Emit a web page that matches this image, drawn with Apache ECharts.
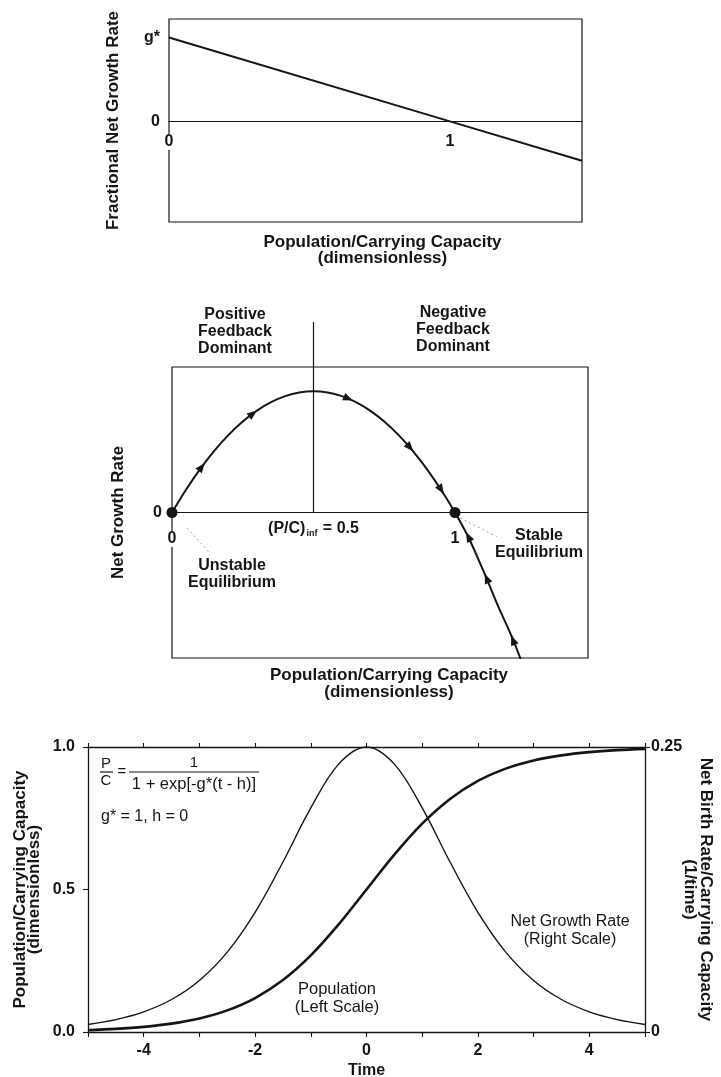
<!DOCTYPE html>
<html>
<head>
<meta charset="utf-8">
<script src="https://cdn.jsdelivr.net/npm/echarts/dist/echarts.min.js"></script>
<style>
  html, body { margin: 0; padding: 0; background: #fff; }
  #chart { width: 721px; height: 1077px; }
</style>
</head>
<body>
<div id="chart"></div>
<script>
// ---- Panel 1: fractional net growth rate vs. population/carrying capacity
const p1X = [0, 1, 1.47];
const p1Y = [1, 0, -0.47];
const p1XTicks = [0, 1];
const p1XTickLabels = ['0', '1'];
const p1YTicks = [0, 1];
const p1YTickLabels = ['0', 'g*'];

// ---- Panel 2: net growth rate (phase plot)
const p2X = [0, 0.05, 0.1, 0.15, 0.2, 0.25, 0.3, 0.35, 0.4, 0.45, 0.5, 0.55, 0.6, 0.65, 0.7,
             0.75, 0.8, 0.85, 0.9, 0.95, 1.0, 1.05, 1.1, 1.15, 1.2, 1.25];
const p2Y = [0, 0.0475, 0.09, 0.1275, 0.16, 0.1875, 0.21, 0.2275, 0.24, 0.2475, 0.25, 0.2475, 0.24,
             0.2275, 0.21, 0.1875, 0.16, 0.1275, 0.09, 0.0475, 0, -0.054, -0.12, -0.19, -0.255, -0.33];
const p2ArrowX = [0.105, 0.286, 0.623, 0.841, 0.951, 1.047, 1.112, 1.205];
const p2ArrowY = [0.094, 0.204, 0.235, 0.134, 0.047, -0.05, -0.136, -0.263];
const p2ArrowDir = [1, 1, 1, 1, 1, -1, -1, -1];
const p2Equilibria = [[0, 0], [1, 0]];
const p2Inflection = 0.5;
const p2DividerTop = 0.393;
const p2UnstableLeader = [[0.053, -0.032], [0.134, -0.084]];
const p2StableLeader = [[1.018, -0.011], [1.148, -0.05]];
const p2XTicks = [0, 1];
const p2XTickLabels = ['0', '1'];
const p2YTicks = [0];
const p2YTickLabels = ['0'];

// ---- Panel 3: logistic population and net growth rate over time
const p3Time = [-5, -4.5, -4, -3.5, -3, -2.5, -2, -1.5, -1, -0.5, 0, 0.5, 1, 1.5, 2, 2.5, 3, 3.5, 4, 4.5, 5];
const p3Population = [0.0067, 0.011, 0.018, 0.0293, 0.0474, 0.0759, 0.1192, 0.1824, 0.2689, 0.3775, 0.5,
                      0.6225, 0.7311, 0.8176, 0.8808, 0.9241, 0.9526, 0.9707, 0.982, 0.989, 0.9933];
const p3GrowthRate = [0.0066, 0.0109, 0.0177, 0.0285, 0.0452, 0.0701, 0.105, 0.1491, 0.1966, 0.235, 0.25,
                      0.235, 0.1966, 0.1491, 0.105, 0.0701, 0.0452, 0.0285, 0.0177, 0.0109, 0.0066];
const p3XTicks = [-4, -2, 0, 2, 4];
const p3XTickLabels = ['-4', '-2', '0', '2', '4'];
const p3LeftTicks = [0, 0.5, 1];
const p3LeftTickLabels = ['0.0', '0.5', '1.0'];
const p3RightTicks = [0, 0.25];
const p3RightTickLabels = ['0', '0.25'];

const FONT = '"Liberation Sans", Arial, Helvetica, sans-serif';
const INK = '#151515';

const zip = (xs, ys) => xs.map((x, i) => [x, ys[i]]);
const tickFormatter = (ticks, labels) => v => {
  const i = ticks.findIndex(t => Math.abs(t - v) < 1e-9);
  return i < 0 ? '' : labels[i];
};
const boldLabel = (extra) => Object.assign({
  color: INK, fontFamily: FONT, fontWeight: 'bold', fontSize: 15
}, extra);
const nameStyle = (extra) => Object.assign({
  color: INK, fontFamily: FONT, fontWeight: 'bold', fontSize: 17, lineHeight: 17
}, extra);
const inkLine = (w) => ({ lineStyle: { color: INK, width: w } });

// Tick labels that sit under the zero line of a phase panel
const zeroLineLabels = (xIdx, yIdx, ticks, labels, distance) => ({
  type: 'scatter', xAxisIndex: xIdx, yAxisIndex: yIdx, symbolSize: 1, clip: false, z: 6,
  itemStyle: { color: 'rgba(0,0,0,0)', opacity: 1 },
  data: ticks.map(t => [t, 0]),
  label: {
    show: true, position: 'bottom', distance, opacity: 1,
    formatter: p => labels[p.dataIndex],
    color: INK, fontFamily: FONT, fontWeight: 'bold', fontSize: 16,
    backgroundColor: '#fff', padding: [0, 2, 0, 2]
  }
});

const chart = echarts.init(document.getElementById('chart'), null, { renderer: 'canvas' });

// Arrow heads laid along the phase curve, pointing toward the stable equilibrium
function renderArrow(params, api) {
  const x = api.value(0), y = api.value(1), dir = api.value(2);
  let k = 0;
  while (k < p2X.length - 2 && p2X[k + 1] < x) k++;
  const a = api.coord([p2X[k], p2Y[k]]);
  const b = api.coord([p2X[k + 1], p2Y[k + 1]]);
  let ang = Math.atan2(b[1] - a[1], b[0] - a[0]);
  if (dir < 0) ang += Math.PI;
  const c = api.coord([x, y]);
  const L = 10, W = 4;
  const cs = Math.cos(ang), sn = Math.sin(ang);
  const tip = [c[0] + cs * L / 2, c[1] + sn * L / 2];
  const back = [c[0] - cs * L / 2, c[1] - sn * L / 2];
  return {
    type: 'polygon',
    shape: { points: [tip, [back[0] - sn * W, back[1] + cs * W], [back[0] + sn * W, back[1] - cs * W]] },
    style: { fill: INK }
  };
}

const txt = (text, x, y, opt) => ({
  type: 'text', x, y, silent: true, z: 10,
  style: Object.assign({
    text, fill: INK, fontFamily: FONT, fontSize: 16, fontWeight: 'bold',
    align: 'center', verticalAlign: 'middle', textAlign: 'center', textVerticalAlign: 'middle', lineHeight: 17
  }, opt || {})
});
const bar = (x1, x2, y) => ({
  type: 'line', silent: true, shape: { x1, y1: y, x2, y2: y }, style: { stroke: INK, lineWidth: 1.2 }
});

const option = {
  animation: false,
  backgroundColor: '#fff',
  grid: [
    { left: 169, top: 19, width: 413, height: 203, show: true, borderColor: INK, borderWidth: 1.2, outerBoundsMode: 'none', containLabel: false },
    { left: 172, top: 367, width: 416, height: 291, show: true, borderColor: INK, borderWidth: 1.2, outerBoundsMode: 'none', containLabel: false },
    { left: 88, top: 747, width: 557, height: 285, show: false, outerBoundsMode: 'none', containLabel: false }
  ],
  xAxis: [
    {
      gridIndex: 0, type: 'value', min: 0, max: 1.47, interval: 1,
      axisLine: Object.assign({ onZero: true }, inkLine(1.2)), axisTick: { show: false }, splitLine: { show: false },
      axisLabel: { show: false },
      name: 'Population/Carrying Capacity\n(dimensionless)', nameLocation: 'middle', nameGap: 12, nameMoveOverlap: false,
      nameTextStyle: nameStyle({ lineHeight: 16, padding: [0, 0, 0, 14] })
    },
    {
      gridIndex: 1, type: 'value', min: 0, max: 1.47, interval: 1,
      axisLine: Object.assign({ onZero: true }, inkLine(1.2)), axisTick: { show: false }, splitLine: { show: false },
      axisLabel: { show: false },
      name: 'Population/Carrying Capacity\n(dimensionless)', nameLocation: 'middle', nameGap: 9, nameMoveOverlap: false,
      nameTextStyle: nameStyle({ padding: [0, 0, 0, 18] })
    },
    {
      gridIndex: 2, type: 'value', position: 'bottom', min: -5, max: 5, interval: 1,
      axisLine: Object.assign({ onZero: false }, inkLine(1.3)),
      axisTick: { show: true, inside: false, length: 5, lineStyle: { color: INK, width: 1.1 } },
      splitLine: { show: false },
      axisLabel: boldLabel({ margin: 11, fontSize: 16, formatter: tickFormatter(p3XTicks, p3XTickLabels) }),
      name: 'Time', nameLocation: 'middle', nameGap: 30, nameMoveOverlap: false, nameTextStyle: nameStyle({ fontSize: 16 })
    },
    {
      gridIndex: 2, type: 'value', position: 'top', min: -5, max: 5, interval: 1,
      axisLine: Object.assign({ onZero: false }, inkLine(1.3)),
      axisTick: { show: true, inside: false, length: 4, lineStyle: { color: INK, width: 1.1 } },
      splitLine: { show: false }, axisLabel: { show: false }
    }
  ],
  yAxis: [
    {
      gridIndex: 0, type: 'value', min: -1.2, max: 1.22,
      axisLine: { show: false, onZero: false }, axisTick: { show: false }, splitLine: { show: false },
      axisLabel: boldLabel({ margin: 9, fontSize: 16, formatter: tickFormatter(p1YTicks, p1YTickLabels) }),
      name: 'Fractional Net Growth Rate', nameLocation: 'middle', nameGap: 47, nameMoveOverlap: false,
      nameTextStyle: nameStyle({})
    },
    {
      gridIndex: 1, type: 'value', min: -0.3, max: 0.3,
      axisLine: { show: false, onZero: false }, axisTick: { show: false }, splitLine: { show: false },
      axisLabel: boldLabel({ margin: 10, fontSize: 16, formatter: tickFormatter(p2YTicks, p2YTickLabels) }),
      name: 'Net Growth Rate', nameLocation: 'middle', nameGap: 45, nameMoveOverlap: false,
      nameTextStyle: nameStyle({})
    },
    {
      gridIndex: 2, type: 'value', position: 'left', min: 0, max: 1, interval: 0.5,
      axisLine: Object.assign({ show: true, onZero: false }, inkLine(1.3)),
      axisTick: { show: true, inside: false, length: 5, lineStyle: { color: INK, width: 1.1 } },
      splitLine: { show: false },
      axisLabel: boldLabel({ margin: 13, fontSize: 16, formatter: tickFormatter(p3LeftTicks, p3LeftTickLabels) }),
      name: 'Population/Carrying Capacity\n(dimensionless)', nameLocation: 'middle', nameRotate: 90,
      nameGap: 47, nameMoveOverlap: false, nameTextStyle: nameStyle({ lineHeight: 14 })
    },
    {
      gridIndex: 2, type: 'value', position: 'right', min: 0, max: 0.25, interval: 0.25,
      axisLine: Object.assign({ show: true, onZero: false }, inkLine(1.3)),
      axisTick: { show: true, inside: false, length: 5, lineStyle: { color: INK, width: 1.1 } },
      splitLine: { show: false },
      axisLabel: boldLabel({ margin: 6, fontSize: 16, formatter: tickFormatter(p3RightTicks, p3RightTickLabels) }),
      name: 'Net Birth Rate/Carrying Capacity\n(1/time)', nameLocation: 'middle', nameRotate: -90,
      nameGap: 37, nameMoveOverlap: false, nameTextStyle: nameStyle({ lineHeight: 16 })
    }
  ],
  series: [
    // Panel 1
    {
      type: 'line', xAxisIndex: 0, yAxisIndex: 0, data: zip(p1X, p1Y), symbol: 'none',
      lineStyle: { color: INK, width: 2 }
    },
    zeroLineLabels(0, 0, p1XTicks, p1XTickLabels, 12),
    // Panel 2: phase curve
    {
      type: 'line', xAxisIndex: 1, yAxisIndex: 1, data: zip(p2X, p2Y), symbol: 'none', smooth: 0.3,
      clip: true, lineStyle: { color: INK, width: 2 }
    },
    // Panel 2: divider at the inflection point
    {
      type: 'line', xAxisIndex: 1, yAxisIndex: 1, data: [[p2Inflection, 0], [p2Inflection, p2DividerTop]],
      symbol: 'none', clip: false, lineStyle: { color: INK, width: 1.2 }
    },
    // Panel 2: leader lines to the equilibrium notes
    {
      type: 'line', xAxisIndex: 1, yAxisIndex: 1, data: p2UnstableLeader, symbol: 'none', clip: false,
      lineStyle: { color: '#8a8a8a', width: 0.8, type: [2, 3] }
    },
    {
      type: 'line', xAxisIndex: 1, yAxisIndex: 1, data: p2StableLeader, symbol: 'none', clip: false,
      lineStyle: { color: '#8a8a8a', width: 0.8, type: [2, 3] }
    },
    // Panel 2: flow arrows
    {
      type: 'custom', xAxisIndex: 1, yAxisIndex: 1, coordinateSystem: 'cartesian2d',
      data: p2ArrowX.map((x, i) => [x, p2ArrowY[i], p2ArrowDir[i]]),
      encode: { x: 0, y: 1 }, renderItem: renderArrow, clip: false, z: 4
    },
    // Panel 2: equilibrium points
    {
      type: 'scatter', xAxisIndex: 1, yAxisIndex: 1, data: p2Equilibria, symbol: 'circle', symbolSize: 11,
      clip: false, itemStyle: { color: INK, opacity: 1 }, z: 5
    },
    zeroLineLabels(1, 1, p2XTicks, p2XTickLabels, 18),
    // Panel 2: inflection point label
    {
      type: 'scatter', xAxisIndex: 1, yAxisIndex: 1, data: [[p2Inflection, 0]], symbolSize: 1,
      itemStyle: { color: 'rgba(0,0,0,0)', opacity: 1 }, clip: false,
      label: {
        show: true, position: 'bottom', distance: 6, color: INK, opacity: 1,
        formatter: '{a|(P/C)}{s|inf}{a| = 0.5}',
        rich: {
          a: { fontFamily: FONT, fontWeight: 'bold', fontSize: 16, color: INK },
          s: { fontFamily: FONT, fontWeight: 'bold', fontSize: 9, color: INK, padding: [10, 1, 0, 1] }
        }
      }
    },
    // Panel 3: population (left scale)
    {
      type: 'line', xAxisIndex: 2, yAxisIndex: 2, data: zip(p3Time, p3Population), symbol: 'none',
      smooth: 0.35, lineStyle: { color: INK, width: 2.6 }
    },
    // Panel 3: net growth rate (right scale)
    {
      type: 'line', xAxisIndex: 2, yAxisIndex: 3, data: zip(p3Time, p3GrowthRate), symbol: 'none',
      smooth: 0.35, lineStyle: { color: INK, width: 1.4 }
    }
  ],
  graphic: [
    // Panel 2 notes
    txt('Positive\nFeedback\nDominant', 235, 332),
    txt('Negative\nFeedback\nDominant', 453, 330),
    txt('Unstable\nEquilibrium', 232, 574),
    txt('Stable\nEquilibrium', 539, 544),
    // Panel 3 logistic formula
    txt('P', 106, 764, { fontWeight: 'normal', fontSize: 15 }),
    txt('C', 106, 781, { fontWeight: 'normal', fontSize: 15 }),
    bar(100, 113, 772),
    txt('=', 122, 772, { fontWeight: 'normal', fontSize: 15 }),
    txt('1', 194, 763, { fontWeight: 'normal', fontSize: 15 }),
    bar(129, 259, 772),
    txt('1 + exp[-g*(t - h)]', 194, 784, { fontWeight: 'normal', fontSize: 16.5 }),
    txt('g* = 1, h = 0', 101, 817, { fontWeight: 'normal', fontSize: 16, align: 'left', textAlign: 'left' }),
    // Panel 3 curve notes
    txt('Net Growth Rate\n(Right Scale)', 570, 931, { fontWeight: 'normal', fontSize: 16, lineHeight: 18 }),
    txt('Population\n(Left Scale)', 337, 998, { fontWeight: 'normal', fontSize: 16.5, lineHeight: 18 })
  ]
};

chart.setOption(option);
</script>
</body>
</html>
